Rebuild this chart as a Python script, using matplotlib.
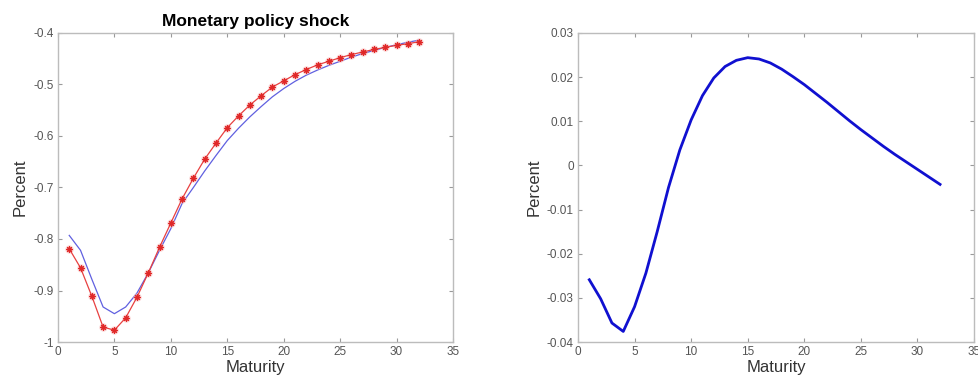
import numpy as np
import matplotlib.pyplot as plt

plt.rcParams['font.family'] = ['Liberation Sans', 'DejaVu Sans']

# Maturities 1..32
maturity = np.arange(1, 33)

# Left panel: response of yields to a monetary policy shock
model_resp = [-0.819, -0.856, -0.911, -0.971, -0.977, -0.953, -0.913, -0.866,
              -0.816, -0.769, -0.722, -0.682, -0.645, -0.614, -0.584, -0.561,
              -0.540, -0.522, -0.505, -0.493, -0.481, -0.471, -0.462, -0.455,
              -0.448, -0.442, -0.437, -0.432, -0.428, -0.424, -0.421, -0.417]
fitted_resp = [-0.793, -0.822, -0.878, -0.932, -0.945, -0.932, -0.905, -0.866,
               -0.822, -0.780, -0.731, -0.700, -0.668, -0.638, -0.609, -0.585,
               -0.563, -0.543, -0.524, -0.508, -0.494, -0.482, -0.472, -0.463,
               -0.455, -0.447, -0.440, -0.434, -0.428, -0.423, -0.418, -0.414]

# Right panel: difference between the two
diff_resp = [-0.0259, -0.0302, -0.0357, -0.0376, -0.0320, -0.0244, -0.0150, -0.0050,
             0.0035, 0.0103, 0.0158, 0.0198, 0.0224, 0.0238, 0.0244, 0.0241,
             0.0232, 0.0218, 0.0201, 0.0183, 0.0163, 0.0143, 0.0122, 0.0101,
             0.0081, 0.0062, 0.0043, 0.0025, 0.0008, -0.0009, -0.0026, -0.0043]

fig = plt.figure(figsize=(9.79, 3.83), dpi=100)
ax1 = fig.add_axes([0.0592, 0.107, 0.4035, 0.807])
ax2 = fig.add_axes([0.5904, 0.107, 0.4045, 0.807])

# matlab-ish axes look
def style(ax):
    for s in ax.spines.values():
        s.set_color('#bcbcbc')
        s.set_linewidth(1.0)
    ax.tick_params(direction='in', top=True, right=True, length=3,
                   color='#9a9a9a', labelcolor='#555555', labelsize=8.5, pad=3)
    ax.set_xlim(0, 35)
    ax.set_xticks(range(0, 36, 5))
    ax.set_xlabel('Maturity', fontsize=12, color='#333333', labelpad=1)
    ax.set_ylabel('Percent', fontsize=12, color='#333333', labelpad=4)

ax1.plot(maturity, fitted_resp, color='#6060e0', lw=0.9)
# soft halo behind the asterisk markers
ax1.plot(maturity, model_resp, ls='none', marker='o', markersize=6,
         markerfacecolor='#f6b0b0', markeredgecolor='none', alpha=0.6)
ax1.plot(maturity, model_resp, color='#e84040', lw=0.9, marker=(8, 2, 0),
         markersize=4.5, markeredgewidth=0.8, markeredgecolor='#e02828')
ax1.set_ylim(-1, -0.4)
ax1.set_yticks(np.arange(-1, -0.39, 0.1))
ax1.set_yticklabels(['-1', '-0.9', '-0.8', '-0.7', '-0.6', '-0.5', '-0.4'])
ax1.set_title('Monetary policy shock', fontsize=12.5, fontweight='bold', pad=5)
style(ax1)

ax2.plot(maturity, diff_resp, color='#1010d0', lw=2.0)
ax2.set_ylim(-0.04, 0.03)
ax2.set_yticks(np.arange(-0.04, 0.031, 0.01))
ax2.set_yticklabels(['-0.04', '-0.03', '-0.02', '-0.01', '0', '0.01', '0.02', '0.03'])
style(ax2)

fig.savefig('out.png', dpi=100)
